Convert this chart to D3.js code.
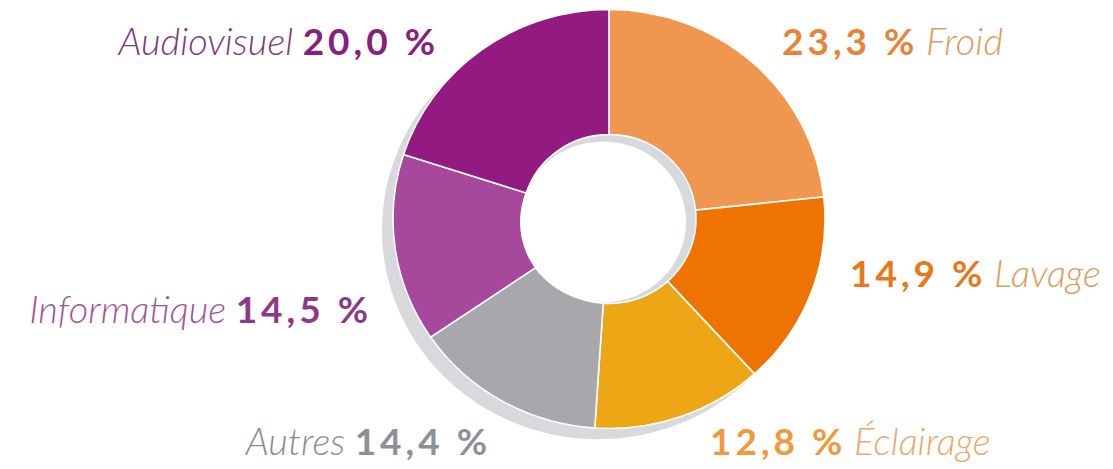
<!DOCTYPE html>
<html>
<head>
<meta charset="utf-8">
<script src="https://cdn.jsdelivr.net/npm/d3@7"></script>
<style>
  body { margin: 0; background: #fff; }
  svg { display: block; }
</style>
</head>
<body>
<div id="chart"></div>
<script>
const categories = ["Froid", "Lavage", "Éclairage", "Autres", "Informatique", "Audiovisuel"];
const shares = [23.3, 14.9, 12.8, 14.4, 14.5, 20.0];
const valueLabels = ["23,3 %", "14,9 %", "12,8 %", "14,4 %", "14,5 %", "20,0 %"];

const sliceColors = ["#F0974F", "#EE7300", "#ECA616", "#A8A7AC", "#A6489C", "#931A80"];
const valueColors = ["#E8843A", "#E67A1A", "#EE9A3C", "#8E9096", "#8C3A86", "#86207A"];
const nameColors  = ["#E8975E", "#E39A5E", "#EBA86C", "#8C8C92", "#A0559A", "#7E3C7A"];

// label anchor: x, baseline y, which side the name goes on
const labelPos = [
    { x: 782, y: 55, side: "right" },
    { x: 850, y: 287, side: "right" },
    { x: 710, y: 455, side: "right" },
    { x: 491, y: 455, side: "left" },
    { x: 372, y: 323, side: "left" },
    { x: 439, y: 55, side: "left" }
];

const width = 1113;
const height = 469;
const cx = 609;
const cy = 219;
const outerR = 216;
const innerR = 87;

const svg = d3
    .select("#chart")
    .append("svg")
    .attr("width", width)
    .attr("height", height);

const g = svg
    .append("g")
    .attr("transform", "translate(" + cx + "," + cy + ") scale(1,0.97)");

// drop shadow behind the ring
g.append("circle")
    .attr("cx", -11)
    .attr("cy", 11)
    .attr("r", outerR)
    .attr("fill", "#D9D9DD");

const pie = d3
    .pie()
    .sort(null)
    .value(d => d);

const arc = d3
    .arc()
    .innerRadius(innerR)
    .outerRadius(outerR);

g.selectAll("path.slice")
    .data(pie(shares))
    .join("path")
    .attr("class", "slice")
    .attr("d", arc)
    .attr("fill", (d, i) => sliceColors[i])
    .attr("stroke", "#fff")
    .attr("stroke-width", 1.6);

// hole with inner shadow on the upper right
g.append("circle")
    .attr("r", innerR - 1)
    .attr("fill", "#D6DADF");

g.append("circle")
    .attr("cx", -6)
    .attr("cy", 3)
    .attr("r", innerR - 4)
    .attr("fill", "#fff");

const labels = svg
    .selectAll("text.label")
    .data(categories)
    .join("text")
    .attr("class", "label")
    .attr("x", (d, i) => labelPos[i].x)
    .attr("y", (d, i) => labelPos[i].y)
    .attr("text-anchor", (d, i) => labelPos[i].side == "left" ? "end" : "start")
    .attr("font-family", "Lato, 'Open Sans', sans-serif");

labels.each(function (d, i) {
    const t = d3.select(this);
    const name = () => t.append("tspan")
        .attr("font-style", "italic")
        .attr("font-weight", 300)
        .attr("font-size", 38)
        .attr("fill", nameColors[i])
        .text(d);
    const value = () => t.append("tspan")
        .attr("font-weight", "bold")
        .attr("font-size", 37)
        .attr("letter-spacing", 4)
        .attr("fill", valueColors[i])
        .text(valueLabels[i]);
    if (labelPos[i].side == "left") {
        name();
        t.append("tspan").attr("font-size", 37).text("\u00A0");
        value();
    } else {
        value();
        t.append("tspan").attr("font-size", 30).text("\u00A0");
        name();
    }
});
</script>
</body>
</html>
